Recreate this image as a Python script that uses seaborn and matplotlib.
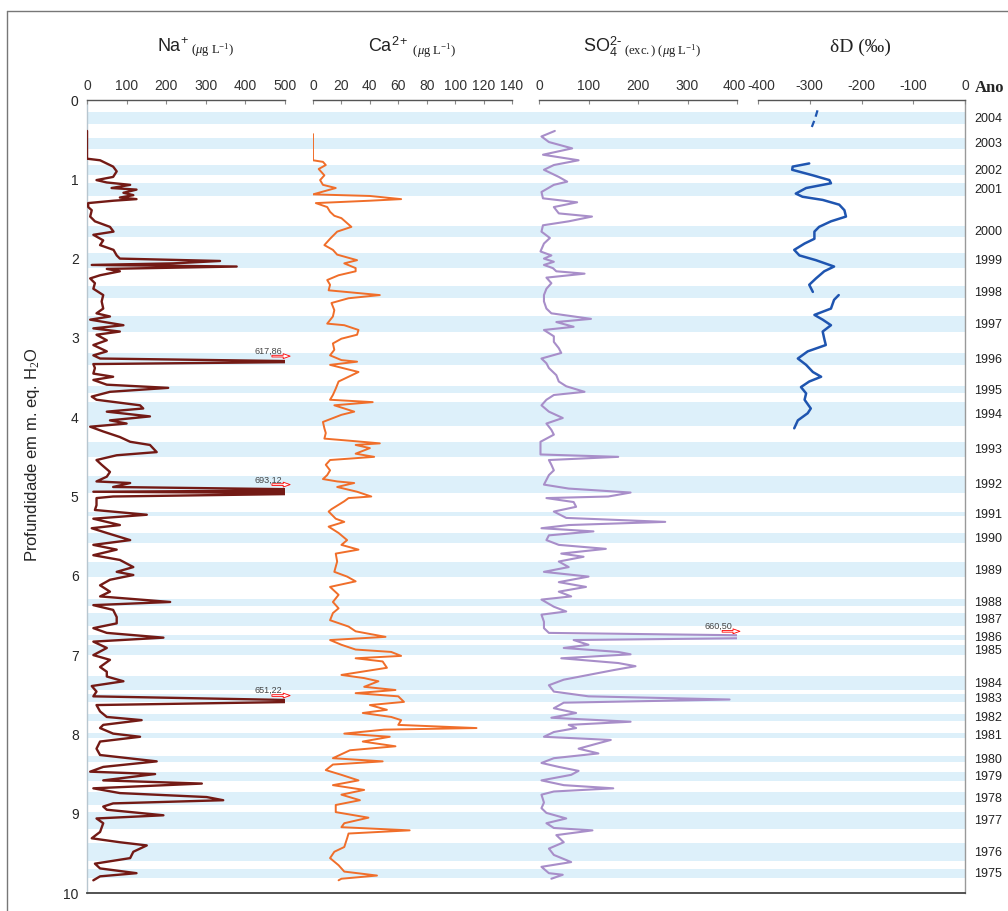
import pandas as pd
import matplotlib
matplotlib.use('Agg')
import matplotlib.pyplot as plt
from matplotlib.lines import Line2D
from matplotlib.transforms import ScaledTranslation
import seaborn as sb

# perfil de gelo: profundidade (m eq. H2O) x concentracao
na_profile = [
    (0.39, 0), (0.74, 0), (0.76, 33), (0.84, 66), (0.90, 75), (0.97, 66), (1.01, 24), (1.04, 50),
    (1.07, 109), (1.11, 62), (1.13, 125), (1.17, 92), (1.20, 117), (1.23, 83), (1.25, 125), (1.27, 67),
    (1.30, 3), (1.35, 3), (1.39, 12), (1.47, 8), (1.53, 20), (1.60, 58), (1.66, 67), (1.70, 16),
    (1.77, 41), (1.83, 33), (1.89, 67), (1.96, 75), (2.00, 83), (2.03, 336), (2.06, 218), (2.08, 12),
    (2.10, 378), (2.13, 50), (2.16, 83), (2.21, 33), (2.25, 8), (2.31, 20), (2.38, 16), (2.46, 41),
    (2.54, 37), (2.63, 41), (2.69, 24), (2.73, 58), (2.77, 8), (2.84, 92), (2.88, 16), (2.92, 83),
    (2.96, 24), (3.03, 50), (3.09, 16), (3.17, 50), (3.22, 16), (3.26, 33), (3.30, 617.86), (3.33, 16),
    (3.38, 20), (3.45, 16), (3.49, 66), (3.53, 16), (3.59, 50), (3.63, 205), (3.68, 58), (3.74, 12),
    (3.78, 24), (3.85, 134), (3.89, 142), (3.93, 50), (3.99, 159), (4.04, 58), (4.08, 100), (4.12, 8),
    (4.18, 41), (4.25, 83), (4.31, 109), (4.35, 159), (4.44, 176), (4.48, 75), (4.54, 24), (4.60, 37),
    (4.69, 58), (4.75, 50), (4.81, 24), (4.83, 109), (4.88, 66), (4.92, 693.12), (4.94, 16), (4.96, 640),
    (5.00, 66), (5.02, 24), (5.11, 24), (5.17, 20), (5.23, 151), (5.28, 16), (5.36, 83), (5.40, 12),
    (5.46, 50), (5.55, 109), (5.61, 16), (5.67, 75), (5.74, 16), (5.80, 83), (5.89, 117), (5.95, 75),
    (5.99, 117), (6.05, 58), (6.12, 33), (6.20, 58), (6.26, 33), (6.33, 210), (6.37, 16), (6.43, 66),
    (6.52, 75), (6.60, 75), (6.66, 16), (6.72, 50), (6.78, 193), (6.83, 16), (6.91, 50), (7.00, 16),
    (7.06, 58), (7.15, 33), (7.21, 50), (7.27, 50), (7.33, 92), (7.39, 12), (7.46, 24), (7.52, 16),
    (7.58, 651.22), (7.63, 24), (7.71, 33), (7.78, 50), (7.82, 138), (7.88, 41), (7.92, 33), (7.99, 66),
    (8.03, 134), (8.09, 33), (8.18, 24), (8.26, 33), (8.34, 176), (8.41, 41), (8.47, 8), (8.50, 172),
    (8.58, 41), (8.62, 290), (8.68, 16), (8.74, 83), (8.79, 302), (8.83, 344), (8.87, 66), (8.91, 41),
    (8.95, 50), (9.02, 193), (9.06, 24), (9.12, 41), (9.23, 33), (9.31, 12), (9.36, 83), (9.40, 151),
    (9.48, 117), (9.56, 109), (9.63, 20), (9.69, 33), (9.75, 125), (9.79, 33), (9.84, 16),
]

ca_profile = [
    (0.43, 0), (0.76, 0), (0.78, 7), (0.82, 9), (0.87, 4), (0.95, 8), (1.01, 5), (1.07, 7),
    (1.11, 16), (1.19, 0), (1.21, 40), (1.25, 62), (1.27, 40), (1.30, 2), (1.35, 10), (1.41, 12),
    (1.46, 15), (1.49, 20), (1.60, 27), (1.66, 17), (1.75, 12), (1.83, 8), (1.89, 14), (1.95, 17),
    (2.02, 31), (2.06, 22), (2.12, 30), (2.16, 30), (2.21, 18), (2.27, 10), (2.33, 12), (2.40, 11),
    (2.46, 47), (2.50, 25), (2.56, 13), (2.65, 15), (2.73, 14), (2.82, 10), (2.84, 22), (2.90, 32),
    (2.96, 31), (3.01, 20), (3.07, 14), (3.15, 15), (3.22, 12), (3.28, 20), (3.30, 31), (3.34, 12),
    (3.43, 32), (3.49, 25), (3.55, 18), (3.64, 16), (3.72, 14), (3.78, 12), (3.81, 42), (3.85, 15),
    (3.93, 29), (3.97, 20), (4.06, 7), (4.14, 8), (4.20, 9), (4.27, 8), (4.30, 28), (4.33, 47),
    (4.35, 30), (4.39, 40), (4.46, 30), (4.50, 43), (4.54, 12), (4.60, 9), (4.67, 12), (4.73, 10),
    (4.78, 7), (4.81, 17), (4.83, 29), (4.88, 17), (4.94, 31), (5.00, 41), (5.02, 25), (5.06, 22),
    (5.16, 13), (5.19, 11), (5.28, 16), (5.32, 22), (5.38, 11), (5.46, 18), (5.55, 24), (5.61, 20),
    (5.67, 32), (5.72, 16), (5.82, 17), (5.95, 15), (6.01, 24), (6.07, 30), (6.14, 12), (6.24, 18),
    (6.33, 14), (6.41, 18), (6.47, 14), (6.56, 12), (6.64, 25), (6.70, 30), (6.77, 51), (6.81, 12),
    (6.87, 20), (6.93, 30), (6.96, 55), (7.01, 62), (7.04, 30), (7.08, 49), (7.16, 52), (7.25, 20),
    (7.29, 36), (7.33, 46), (7.40, 36), (7.44, 58), (7.48, 30), (7.52, 60), (7.59, 64), (7.63, 40),
    (7.69, 52), (7.73, 35), (7.78, 55), (7.82, 62), (7.88, 60), (7.92, 115), (7.94, 50), (7.99, 22),
    (8.03, 54), (8.09, 35), (8.15, 58), (8.20, 26), (8.30, 14), (8.34, 49), (8.38, 14), (8.45, 9),
    (8.51, 20), (8.58, 32), (8.64, 14), (8.70, 36), (8.76, 20), (8.83, 33), (8.89, 16), (8.98, 16),
    (9.05, 39), (9.12, 22), (9.17, 20), (9.21, 68), (9.25, 25), (9.31, 24), (9.42, 22), (9.48, 15),
    (9.56, 12), (9.65, 18), (9.73, 22), (9.78, 45), (9.82, 20), (9.84, 18),
]

so4_profile = [
    (0.39, 32), (0.46, 5), (0.53, 20), (0.61, 67), (0.69, 8), (0.76, 80), (0.82, 30), (0.88, 10),
    (0.97, 40), (1.03, 57), (1.07, 30), (1.16, 5), (1.24, 8), (1.29, 77), (1.35, 30), (1.43, 40),
    (1.47, 107), (1.53, 60), (1.58, 8), (1.66, 5), (1.74, 22), (1.81, 10), (1.91, 3), (1.96, 25),
    (2.00, 10), (2.04, 30), (2.08, 10), (2.12, 28), (2.16, 35), (2.19, 92), (2.24, 15), (2.31, 25),
    (2.38, 15), (2.46, 10), (2.54, 10), (2.63, 15), (2.69, 25), (2.76, 105), (2.80, 35), (2.86, 70),
    (2.90, 10), (2.98, 30), (3.05, 30), (3.13, 40), (3.19, 45), (3.26, 5), (3.32, 15), (3.38, 20),
    (3.47, 35), (3.55, 40), (3.61, 55), (3.68, 92), (3.72, 30), (3.78, 15), (3.85, 5), (3.93, 20),
    (4.01, 48), (4.08, 15), (4.16, 25), (4.22, 30), (4.31, 3), (4.47, 3), (4.50, 160), (4.54, 20),
    (4.60, 25), (4.67, 30), (4.73, 20), (4.79, 15), (4.85, 10), (4.90, 60), (4.95, 185), (5.00, 140),
    (5.02, 15), (5.07, 70), (5.13, 75), (5.19, 30), (5.27, 55), (5.32, 255), (5.36, 60), (5.40, 5),
    (5.44, 110), (5.49, 20), (5.55, 15), (5.61, 40), (5.66, 135), (5.72, 45), (5.76, 90), (5.82, 40),
    (5.89, 60), (5.95, 10), (6.01, 100), (6.08, 40), (6.14, 95), (6.20, 40), (6.26, 65), (6.30, 5),
    (6.39, 30), (6.45, 55), (6.49, 5), (6.58, 10), (6.66, 10), (6.72, 20), (6.77, 660.50), (6.81, 70),
    (6.87, 100), (6.91, 50), (6.96, 160), (6.99, 185), (7.04, 45), (7.10, 160), (7.14, 195), (7.19, 150),
    (7.25, 100), (7.31, 50), (7.38, 20), (7.46, 30), (7.52, 100), (7.56, 385), (7.60, 50), (7.67, 30),
    (7.73, 75), (7.79, 25), (7.84, 185), (7.88, 60), (7.92, 75), (7.97, 30), (8.03, 10), (8.07, 145),
    (8.12, 115), (8.18, 80), (8.24, 120), (8.30, 30), (8.36, 5), (8.41, 40), (8.46, 80), (8.51, 65),
    (8.58, 5), (8.64, 50), (8.68, 150), (8.72, 30), (8.76, 5), (8.86, 10), (8.93, 5), (8.99, 15),
    (9.06, 55), (9.12, 15), (9.18, 30), (9.21, 108), (9.27, 35), (9.36, 50), (9.44, 20), (9.52, 30),
    (9.61, 65), (9.67, 5), (9.75, 20), (9.77, 48), (9.82, 25),
]

# deltaD em tres trechos (falhas no registro)
dd_top = [(0.13, -285), (0.24, -290), (0.34, -296)]
dd_mid = [
    (0.80, -301), (0.84, -333), (0.88, -334), (0.95, -294), (1.01, -262), (1.05, -259), (1.11, -307),
    (1.18, -327), (1.22, -314), (1.26, -275), (1.32, -243), (1.39, -233), (1.47, -230), (1.53, -259),
    (1.60, -282), (1.66, -291), (1.75, -291), (1.81, -310), (1.89, -330), (1.96, -320), (2.02, -288),
    (2.10, -253), (2.16, -272), (2.25, -288), (2.33, -301), (2.42, -294),
]
dd_low = [
    (2.46, -244), (2.52, -253), (2.63, -259), (2.71, -291), (2.77, -275), (2.84, -259), (2.92, -275),
    (3.01, -272), (3.09, -269), (3.17, -304), (3.26, -323), (3.34, -307), (3.43, -294), (3.49, -278),
    (3.55, -301), (3.62, -317), (3.70, -307), (3.78, -310), (3.89, -298), (3.95, -304), (4.04, -323),
    (4.14, -330),
]

# camadas anuais (topo, base) em m eq. H2O
years = list(range(2004, 1974, -1))
year_bands = [
    (0.15, 0.30), (0.48, 0.62), (0.82, 0.95), (1.05, 1.21), (1.59, 1.73), (1.93, 2.12),
    (2.35, 2.50), (2.72, 2.93), (3.19, 3.34), (3.61, 3.70), (3.81, 4.11), (4.31, 4.50),
    (4.74, 4.96), (5.20, 5.25), (5.46, 5.59), (5.83, 6.02), (6.29, 6.38), (6.47, 6.63),
    (6.75, 6.81), (6.87, 7.00), (7.26, 7.44), (7.49, 7.59), (7.74, 7.83), (7.98, 8.05),
    (8.27, 8.35), (8.47, 8.59), (8.73, 8.89), (8.98, 9.19), (9.37, 9.60), (9.70, 9.81),
]

# valores fora de escala
na_offscale = [(3.30, '617,86'), (4.92, '693,12'), (7.58, '651,22')]
so4_offscale = [(6.77, '660,50')]

W, H = 1008, 911

def box(x0, x1, y0=100, y1=893):
    return [x0 / W, 1 - y1 / H, (x1 - x0) / W, (y1 - y0) / H]

sb.set_style('white')
plt.rcParams['font.family'] = ['Liberation Sans', 'DejaVu Sans']
plt.rcParams['axes.unicode_minus'] = False
plt.rcParams['mathtext.fontset'] = 'custom'
plt.rcParams['mathtext.rm'] = 'Liberation Serif'
plt.rcParams['mathtext.it'] = 'Liberation Serif:italic'
plt.rcParams['mathtext.sf'] = 'Liberation Sans'

fig = plt.figure(figsize=(W / 100, H / 100), dpi=100)

# moldura
fig.add_artist(Line2D([7 / W, 7 / W], [1 - 11 / H, 0], transform=fig.transFigure, color='#777777', lw=1))
fig.add_artist(Line2D([7 / W, 1], [1 - 11 / H, 1 - 11 / H], transform=fig.transFigure, color='#777777', lw=1))

# fundo com as faixas anuais
bg = fig.add_axes(box(87, 965))
bg.set_xlim(0, 1)
bg.set_ylim(10, 0)
for (top, bot), yr in zip(year_bands, years):
    bg.axhspan(top, bot, color='#ddf0fa', lw=0)
    bg.text(1.026, (top + bot) / 2 + 0.01, str(yr), transform=bg.get_yaxis_transform(),
            ha='center', va='center', fontsize=9, color='#222222', clip_on=False)
bg.set_xticks([])
bg.set_yticks(range(0, 11))
bg.tick_params(axis='y', direction='out', length=3, width=0.8, color='#999999', labelsize=10, pad=3)
bg.spines['top'].set_visible(False)
bg.spines['left'].set_color('#b8c6cf')
bg.spines['right'].set_color('#999999')
bg.spines['bottom'].set_color('#444444')
bg.spines['bottom'].set_linewidth(1.3)
for s in ['left', 'right']:
    bg.spines[s].set_linewidth(1)

fig.text(975 / W, 1 - 88 / H, 'Ano', fontsize=12, fontweight='bold',
         family=['Liberation Serif', 'DejaVu Serif'], ha='left', va='center')
fig.text(33 / W, 1 - 455 / H, r'Profundidade em m. eq. H$_2$O', rotation=90,
         ha='center', va='center', fontsize=12)


def panel(x0, x1, xlim, ticks, title, title_x):
    ax = fig.add_axes(box(x0, x1))
    ax.patch.set_alpha(0)
    ax.set_xlim(*xlim)
    ax.set_ylim(10, 0)
    ax.xaxis.tick_top()
    ax.set_xticks(ticks)
    ax.set_yticks([])
    for s in ['left', 'right', 'bottom']:
        ax.spines[s].set_visible(False)
    ax.spines['top'].set_color('#555555')
    ax.spines['top'].set_linewidth(1)
    ax.tick_params(axis='x', direction='in', length=3, width=0.8, color='#888888',
                   labelsize=10, pad=5, labelcolor='#333333')
    if title:
        fig.text(title_x / W, 1 - 47 / H, title, ha='center', va='center', fontsize=13, color='#222222')
    return ax


def draw(ax, profile, color, lw, **kw):
    df = pd.DataFrame(profile, columns=['depth', 'val'])
    sb.lineplot(data=df, x='val', y='depth', orient='y', estimator=None, sort=True,
                color=color, lw=lw, ax=ax, **kw)
    ax.set_xlabel('')
    ax.set_ylabel('')


def offscale(ax, items, xtxt, xa0, xa1):
    for d, lab in items:
        ax.text(xtxt, d - 0.13, lab, fontsize=6.5, color='#444444', ha='center', va='center', clip_on=False)
        ax.annotate('', xy=(xa1, d - 0.07), xytext=(xa0, d - 0.07), annotation_clip=False,
                    arrowprops=dict(arrowstyle='simple,head_length=0.5,head_width=0.35,tail_width=0.12',
                                    fc='white', ec='red', lw=0.6, shrinkA=0, shrinkB=0))


def nudge(ax, index, dx_px):
    lab = ax.get_xticklabels(which='major')[index]
    lab.set_transform(lab.get_transform() + ScaledTranslation(dx_px / 100, 0, fig.dpi_scale_trans))


ax_na = panel(87, 285, (0, 500), range(0, 501, 100),
              r'$\mathsf{Na}^{\mathsf{+}}{}_{\ (\mu \mathrm{g\ L}^{-1})}$', 196)
draw(ax_na, na_profile, '#731a15', 1.7)
ax_na.set_xlim(0, 500)
ax_na.set_ylim(10, 0)
offscale(ax_na, na_offscale, 458, 467, 513)

ax_ca = panel(313, 512, (0, 140), range(0, 141, 20),
              r'$\mathsf{Ca}^{\mathsf{2+}}{}_{\ (\mu \mathrm{g\ L}^{-1})}$', 412)
draw(ax_ca, ca_profile, '#f06e2a', 1.4)
ax_ca.set_xlim(0, 140)
ax_ca.set_ylim(10, 0)

ax_so4 = panel(539, 737, (0, 400), range(0, 401, 100),
               r'$\mathsf{SO}_{\mathsf{4}}^{\mathsf{2\text{-}}}{}_{\ (\mathrm{exc.})\ (\mu \mathrm{g\ L}^{-1})}$', 642)
draw(ax_so4, so4_profile, '#a88ec9', 1.5)
ax_so4.set_xlim(0, 400)
ax_so4.set_ylim(10, 0)
offscale(ax_so4, so4_offscale, 362, 370, 406)

ax_dd = panel(758, 965, (-400, 0), range(-400, 1, 100), '', 860)
draw(ax_dd, dd_top, '#1f55b0', 1.6)
ax_dd.lines[-1].set_dashes([3, 2])
draw(ax_dd, dd_mid, '#1f55b0', 1.8)
draw(ax_dd, dd_low, '#1f55b0', 1.8)
ax_dd.set_xlim(-400, 0)
ax_dd.set_ylim(10, 0)
fig.text(860 / W, 1 - 47 / H, 'δD (‰)', ha='center', va='center', fontsize=14,
         family=['Liberation Serif', 'DejaVu Serif'], color='#222222')

# "400" e "-400" lado a lado, como no original
nudge(ax_so4, -1, -3)
nudge(ax_dd, 0, 3)

fig.savefig('out.png', dpi=100)
